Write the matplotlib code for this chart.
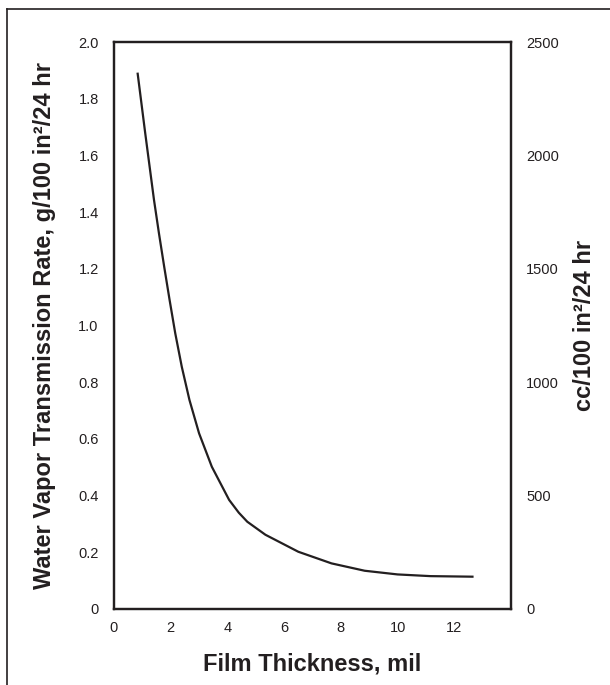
import matplotlib
matplotlib.use("Agg")
import matplotlib.pyplot as plt
from matplotlib.lines import Line2D
from matplotlib.ticker import FuncFormatter

# film thickness (mil) vs water vapour transmission rate (g/100 in^2/24 hr)
thickness = [0.83, 1.1, 1.41, 1.585, 1.77, 1.96, 2.16, 2.39, 2.66, 3.0, 3.45,
             4.06, 4.4, 4.7, 5.34, 6.5, 7.67, 8.84, 10.0, 11.16, 12.68]
wvtr = [1.893, 1.68, 1.444, 1.326, 1.208, 1.091, 0.973, 0.855, 0.738, 0.62,
        0.502, 0.385, 0.34, 0.308, 0.262, 0.202, 0.161, 0.135, 0.122, 0.116, 0.114]

x_ticks = [0, 2, 4, 6, 8, 10, 12]
left_ticks = [0, 0.2, 0.4, 0.6, 0.8, 1.0, 1.2, 1.4, 1.6, 1.8, 2.0]
right_ticks = [0, 500, 1000, 1500, 2000, 2500]

ink = '#231f20'
tick_font = ['Liberation Sans Narrow', 'Liberation Sans', 'DejaVu Sans']
label_font = ['Liberation Sans', 'DejaVu Sans']

fig = plt.figure(figsize=(6.1, 6.85), dpi=100)
ax = fig.add_axes([114/610, 1 - 609/685, (511 - 114)/610, (609 - 42.3)/685])

ax.plot(thickness, wvtr, color=ink, lw=1.6, solid_capstyle='butt',
        solid_joinstyle='round')
ax.set_xlim(0, 14)
ax.set_ylim(0, 2.0)
ax.set_xticks(x_ticks)
ax.set_yticks(left_ticks)
ax.yaxis.set_major_formatter(FuncFormatter(lambda v, p: '0' if v == 0 else f'{v:.1f}'))
ax.tick_params(length=0, labelsize=10.5, colors=ink)
ax.tick_params(axis='y', pad=11)
ax.tick_params(axis='x', pad=9)
for lab in ax.get_xticklabels() + ax.get_yticklabels():
    lab.set_family(tick_font)
for s in ax.spines.values():
    s.set_linewidth(1.6)
    s.set_color(ink)

ax2 = ax.twinx()
ax2.set_ylim(0, 2500)
ax2.set_yticks(right_ticks)
ax2.tick_params(length=0, labelsize=10.5, colors=ink, pad=11)
for lab in ax2.get_yticklabels():
    lab.set_family(tick_font)
for s in ax2.spines.values():
    s.set_linewidth(1.6)
    s.set_color(ink)

ax.set_xlabel('Film Thickness, mil', family=label_font, fontweight='bold',
              fontsize=17, color=ink, labelpad=12)
ax.set_ylabel('Water Vapor Transmission Rate, g/100 in²/24 hr', family=label_font,
              fontweight='bold', fontsize=17, color=ink, labelpad=16)
ax2.set_ylabel('cc/100 in²/24 hr', family=label_font, fontweight='bold',
               fontsize=17, color=ink, labelpad=10)

# frame lines along the top and left of the figure
fig.add_artist(Line2D([7/610, 1.0], [1 - 9/685, 1 - 9/685], color=ink, lw=1.2))
fig.add_artist(Line2D([7/610, 7/610], [0.0, 1 - 9/685], color=ink, lw=1.2))

fig.savefig('out.png', dpi=100)
